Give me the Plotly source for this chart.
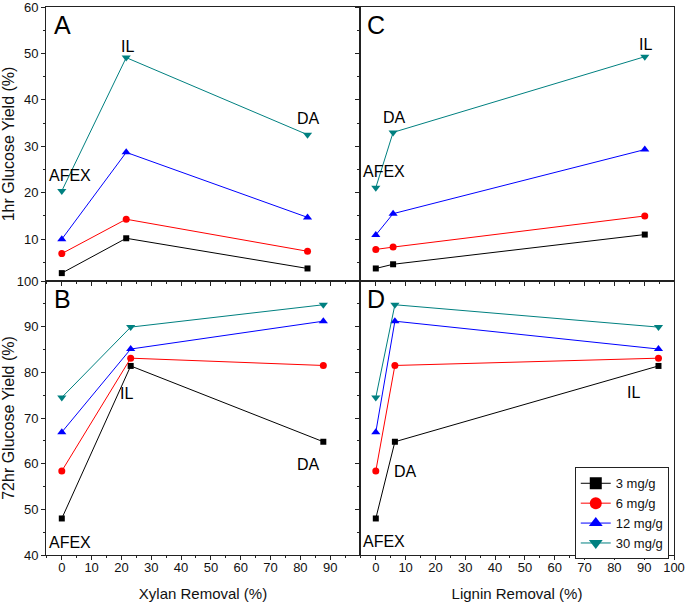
import plotly.graph_objs as go
from plotly.subplots import make_subplots

# doses (legend) and styles
doses = ['3 mg/g', '6 mg/g', '12 mg/g', '30 mg/g']
colors = ['#000000', '#ff0000', '#0000ff', '#008080']
symbols = ['square', 'circle', 'triangle-up', 'triangle-down']
sizes = [6, 7, 8, 8]

# pretreatments, in order AFEX, IL, DA
pretreat = ['AFEX', 'IL', 'DA']

# x values: removal (%)
xylan_1hr = [0, 21.6, 82.4]
xylan_72hr = [0, 23.1, 87.7]
lignin_1hr = [0, 90.2, 5.8]
lignin_72hr = [0, 94.8, 6.4]

# 1hr glucose yield (%), one list per dose (AFEX, IL, DA)
yield_1hr_a = [
    [2.7, 10.2, 3.7],
    [6.9, 14.3, 7.4],
    [10.0, 28.7, 14.7],
    [20.4, 49.1, 32.5],
]
yield_1hr_c = [
    [3.7, 11.0, 4.6],
    [7.8, 15.0, 8.3],
    [10.9, 29.3, 15.5],
    [21.1, 49.3, 33.0],
]
# 72hr glucose yield (%)
yield_72hr = [
    [48.0, 81.4, 64.8],
    [58.4, 83.1, 81.5],
    [66.9, 85.1, 91.2],
    [74.5, 89.9, 94.8],
]

# label positions (data units) for the pretreatment names
labels_a = [(2.7, 23.8), (22, 51.4), (82.7, 35.9)]
labels_c = [(2.9, 24.5), (90.5, 51.9), (6.3, 36.1)]
labels_b = [(2.7, 42.7), (21.7, 75.3), (82.7, 59.8)]
labels_d = [(2.9, 42.9), (86.4, 75.5), (10, 58.2)]

fig = make_subplots(rows=2, cols=2, horizontal_spacing=0, vertical_spacing=0)


def sort_by_x(xs, ys):
    pairs = sorted(zip(xs, ys))
    return [p[0] for p in pairs], [p[1] for p in pairs]


panels = [
    (1, 1, xylan_1hr, yield_1hr_a),
    (1, 2, lignin_1hr, yield_1hr_c),
    (2, 1, xylan_72hr, yield_72hr),
    (2, 2, lignin_72hr, yield_72hr),
]

for row, col, xs, data in panels:
    for i in range(len(doses)):
        sx, sy = sort_by_x(xs, data[i])
        fig.add_trace(go.Scatter(
            x=sx, y=sy, mode='lines+markers',
            line=dict(color=colors[i], width=1),
            marker=dict(symbol=symbols[i], size=sizes[i], color=colors[i]),
            showlegend=False, hoverinfo='skip'), row=row, col=col)

# legend-only traces (bigger symbols, like the original)
for i in range(len(doses)):
    fig.add_trace(go.Scatter(
        x=[None], y=[None], mode='lines+markers', name=doses[i],
        line=dict(color=colors[i], width=1),
        marker=dict(symbol=symbols[i], size=12, color=colors[i])),
        row=2, col=2)

font_family = 'Liberation Sans, Arial, sans-serif'
axis_common = dict(showline=True, linecolor='#222', linewidth=1, mirror=True,
                   ticks='outside', ticklen=4, tickcolor='#222', showgrid=False,
                   zeroline=False, automargin=False, ticklabeloverflow='allow',
                   tickfont=dict(size=13, color='#111'),
                   minor=dict(ticks='outside', ticklen=2, tickcolor='#222'))

for r in (1, 2):
    for c in (1, 2):
        fig.update_xaxes(range=[-5.3, 100], row=r, col=c, **axis_common)
        fig.update_yaxes(row=r, col=c, **axis_common)

fig.update_xaxes(tickvals=[0, 10, 20, 30, 40, 50, 60, 70, 80, 90], minor=dict(dtick=5, tick0=0), col=1)
fig.update_xaxes(tickvals=[0, 10, 20, 30, 40, 50, 60, 70, 80, 90, 100], minor=dict(dtick=5, tick0=0), col=2)
fig.update_xaxes(showticklabels=False, row=1)
fig.update_xaxes(ticklabelstandoff=-4, row=2)
fig.update_xaxes(title=dict(text='Xylan Removal (%)', font=dict(size=15), standoff=14), row=2, col=1)
fig.update_xaxes(title=dict(text='Lignin Removal (%)', font=dict(size=15), standoff=14), row=2, col=2)

fig.update_yaxes(range=[1, 60], tickvals=[10, 20, 30, 40, 50, 60], minor=dict(dtick=5, tick0=0), row=1)
fig.update_yaxes(range=[40, 100], tickvals=[40, 50, 60, 70, 80, 90, 100], minor=dict(dtick=5, tick0=0), row=2)
fig.update_yaxes(showticklabels=False, col=2)
fig.update_yaxes(title=dict(text='1hr Glucose Yield (%)', font=dict(size=16), standoff=6), row=1, col=1)
fig.update_yaxes(title=dict(text='72hr Glucose Yield (%)', font=dict(size=16), standoff=6), row=2, col=1)

annotations = []
# pretreatment labels
for (xr, yr), labs in [(('x', 'y'), labels_a), (('x2', 'y2'), labels_c),
                       (('x3', 'y3'), labels_b), (('x4', 'y4'), labels_d)]:
    for name, (lx, ly) in zip(pretreat, labs):
        annotations.append(dict(x=lx, y=ly, xref=xr, yref=yr, text=name, showarrow=False,
                                font=dict(size=16, color='#000')))

# panel letters
for letter, xr, yr in [('A', 'x domain', 'y domain'), ('C', 'x2 domain', 'y2 domain'),
                       ('B', 'x3 domain', 'y3 domain'), ('D', 'x4 domain', 'y4 domain')]:
    annotations.append(dict(x=0.052, y=0.936, xref=xr, yref=yr, text=letter, showarrow=False,
                            xanchor='center', yanchor='middle', font=dict(size=25, color='#000')))

fig.update_layout(
    width=685, height=605,
    margin=dict(l=46, r=11, t=7, b=50),
    paper_bgcolor='white', plot_bgcolor='white',
    font=dict(family=font_family, color='#111'),
    annotations=annotations,
    legend=dict(x=0.842, y=0.16, xanchor='left', yanchor='top',
                bordercolor='#222', borderwidth=1, bgcolor='white',
                font=dict(size=13), tracegroupgap=0, itemwidth=30),
)

# drop the default 8px page margin so the figure sits at the window corner
fig.write_html("out.html", config={'displayModeBar': False},
               post_script="document.body.style.margin = '0';")
